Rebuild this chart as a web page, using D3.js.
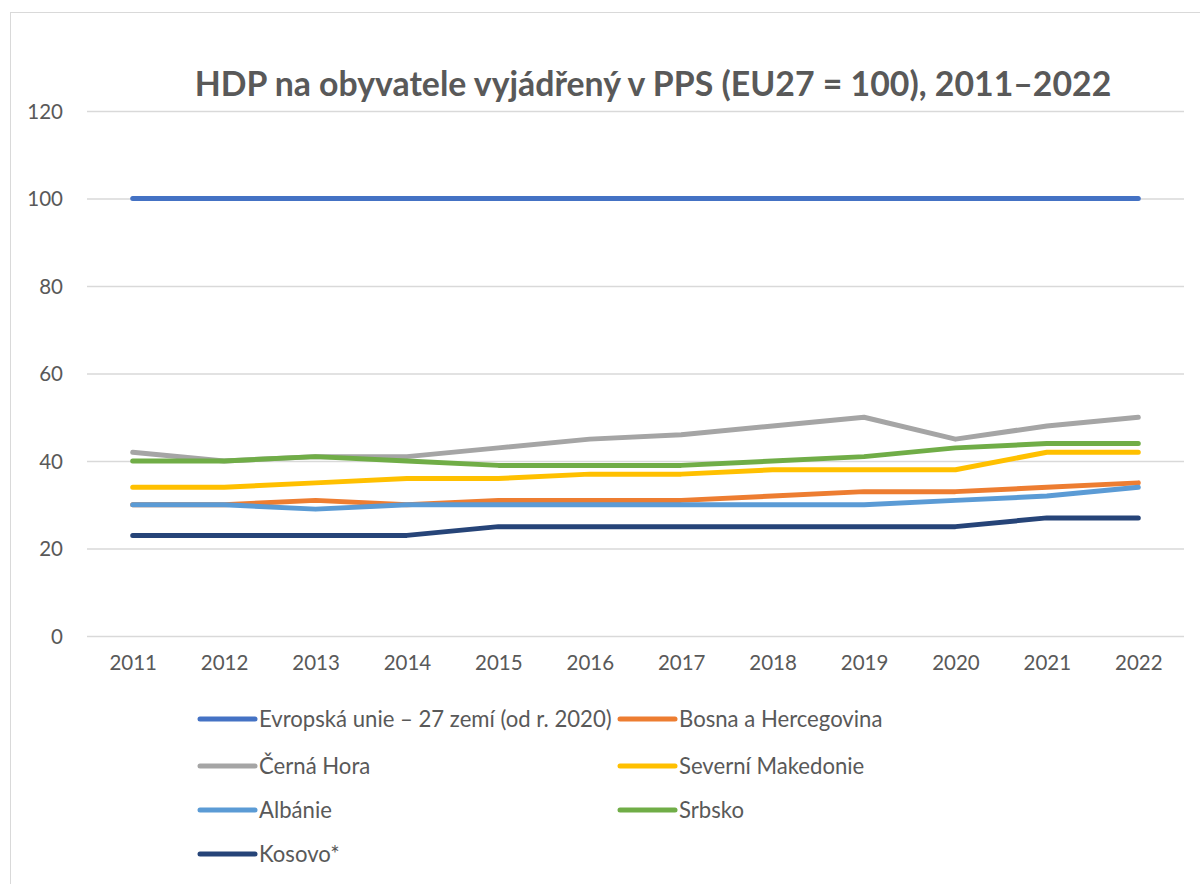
<!DOCTYPE html>
<html>
<head>
<meta charset="utf-8">
<script src="https://cdn.jsdelivr.net/npm/d3@7"></script>
<style>
  body { margin: 0; background: #fff; }
  text { font-family: Lato, "Noto Sans", sans-serif; fill: #595959; }
</style>
</head>
<body>
<div id="chart"></div>
<script>
// data
var years = ["2011", "2012", "2013", "2014", "2015", "2016", "2017", "2018", "2019", "2020", "2021", "2022"];
var seriesNames = ["Evropská unie – 27 zemí (od r. 2020)", "Bosna a Hercegovina", "Černá Hora",
                   "Severní Makedonie", "Albánie", "Srbsko", "Kosovo*"];
var eu27      = [100, 100, 100, 100, 100, 100, 100, 100, 100, 100, 100, 100];
var bosna     = [30, 30, 31, 30, 31, 31, 31, 32, 33, 33, 34, 35];
var cernaHora = [42, 40, 41, 41, 43, 45, 46, 48, 50, 45, 48, 50];
var makedonie = [34, 34, 35, 36, 36, 37, 37, 38, 38, 38, 42, 42];
var albanie   = [30, 30, 29, 30, 30, 30, 30, 30, 30, 31, 32, 34];
var srbsko    = [40, 40, 41, 40, 39, 39, 39, 40, 41, 43, 44, 44];
var kosovo    = [23, 23, 23, 23, 25, 25, 25, 25, 25, 25, 27, 27];
var yTicks = [0, 20, 40, 60, 80, 100, 120];

var colors = ["#4472C4", "#ED7D31", "#A5A5A5", "#FFC000", "#5B9BD5", "#70AD47", "#264478"];
var series = [eu27, bosna, cernaHora, makedonie, albanie, srbsko, kosovo].map(function(v, i) {
    return { name: seriesNames[i], values: v, color: colors[i] };
});

var width = 1200, height = 884;
var Plot = { left: 87, right: 1184, top: 111, bottom: 636 };

var svg = d3.select("#chart").append("svg")
    .attr("width", width)
    .attr("height", height);

// chart frame
svg.append("rect")
    .attr("x", 10.5).attr("y", 12.5)
    .attr("width", 1200).attr("height", 900)
    .attr("fill", "#fff")
    .attr("stroke", "#D9D9D9");

var x = d3.scalePoint().domain(years).range([Plot.left, Plot.right]).padding(0.5);
var y = d3.scaleLinear().domain([0, 120]).range([Plot.bottom, Plot.top]);

// gridlines + y labels
var yAxis = svg.append("g")
    .attr("transform", `translate(${Plot.left}, 0)`)
    .call(d3.axisLeft(y).tickValues(yTicks).tickSize(-(Plot.right - Plot.left)).tickPadding(24));
yAxis.select(".domain").remove();
yAxis.selectAll(".tick line").attr("stroke", "#D9D9D9").attr("stroke-width", 1.3);
yAxis.selectAll(".tick text")
    .attr("fill", "#595959")
    .style("font-size", "20.5px")
    .attr("dy", "0.35em");

// x labels
var xAxis = svg.append("g")
    .attr("transform", `translate(0, ${Plot.bottom})`)
    .call(d3.axisBottom(x).tickSize(0).tickPadding(19));
xAxis.select(".domain").remove();
xAxis.selectAll(".tick text")
    .attr("fill", "#595959")
    .style("font-size", "20.5px");

// lines
var line = d3.line()
    .x(function(d, i) { return x(years[i]); })
    .y(function(d) { return y(d); });

svg.append("g").selectAll("path")
    .data(series)
    .enter()
    .append("path")
    .attr("d", function(d) { return line(d.values); })
    .attr("fill", "none")
    .attr("stroke", function(d) { return d.color; })
    .attr("stroke-width", 5)
    .attr("stroke-linecap", "round")
    .attr("stroke-linejoin", "round");

// title
var title = svg.append("text")
    .attr("x", 653)
    .attr("y", 96)
    .attr("text-anchor", "middle")
    .style("font-weight", "bold")
    .style("font-size", "31px")
    .text("HDP na obyvatele vyjádřený v PPS (EU27 = 100), 2011–2022");
// squeeze font size so the title spans the same width as in the picture
var tw = title.node().getComputedTextLength();
title.style("font-size", (31 * 917 / tw) + "px");

// legend
var Legend = { cols: [200, 620], rows: [719, 766, 810, 854], lineWidth: 55, gap: 4 };
var legendItems = svg.append("g").selectAll("g")
    .data(series)
    .enter()
    .append("g")
    .attr("transform", function(d, i) {
        var col = i === 6 ? 0 : i % 2;
        var row = Math.floor(i / 2);
        return `translate(${Legend.cols[col]}, ${Legend.rows[row]})`;
    });
legendItems.append("line")
    .attr("x1", 0).attr("x2", Legend.lineWidth)
    .attr("y1", 0).attr("y2", 0)
    .attr("stroke", function(d) { return d.color; })
    .attr("stroke-width", 5)
    .attr("stroke-linecap", "round");
var legendText = legendItems.append("text")
    .attr("x", Legend.lineWidth + Legend.gap)
    .attr("dy", "0.35em")
    .style("font-size", "19px")
    .text(function(d) { return d.name; });
// first label should reach ~353px like the picture
var lw = legendText.nodes()[0].getComputedTextLength();
legendText.style("font-size", (19 * 353 / lw) + "px");
</script>
</body>
</html>
